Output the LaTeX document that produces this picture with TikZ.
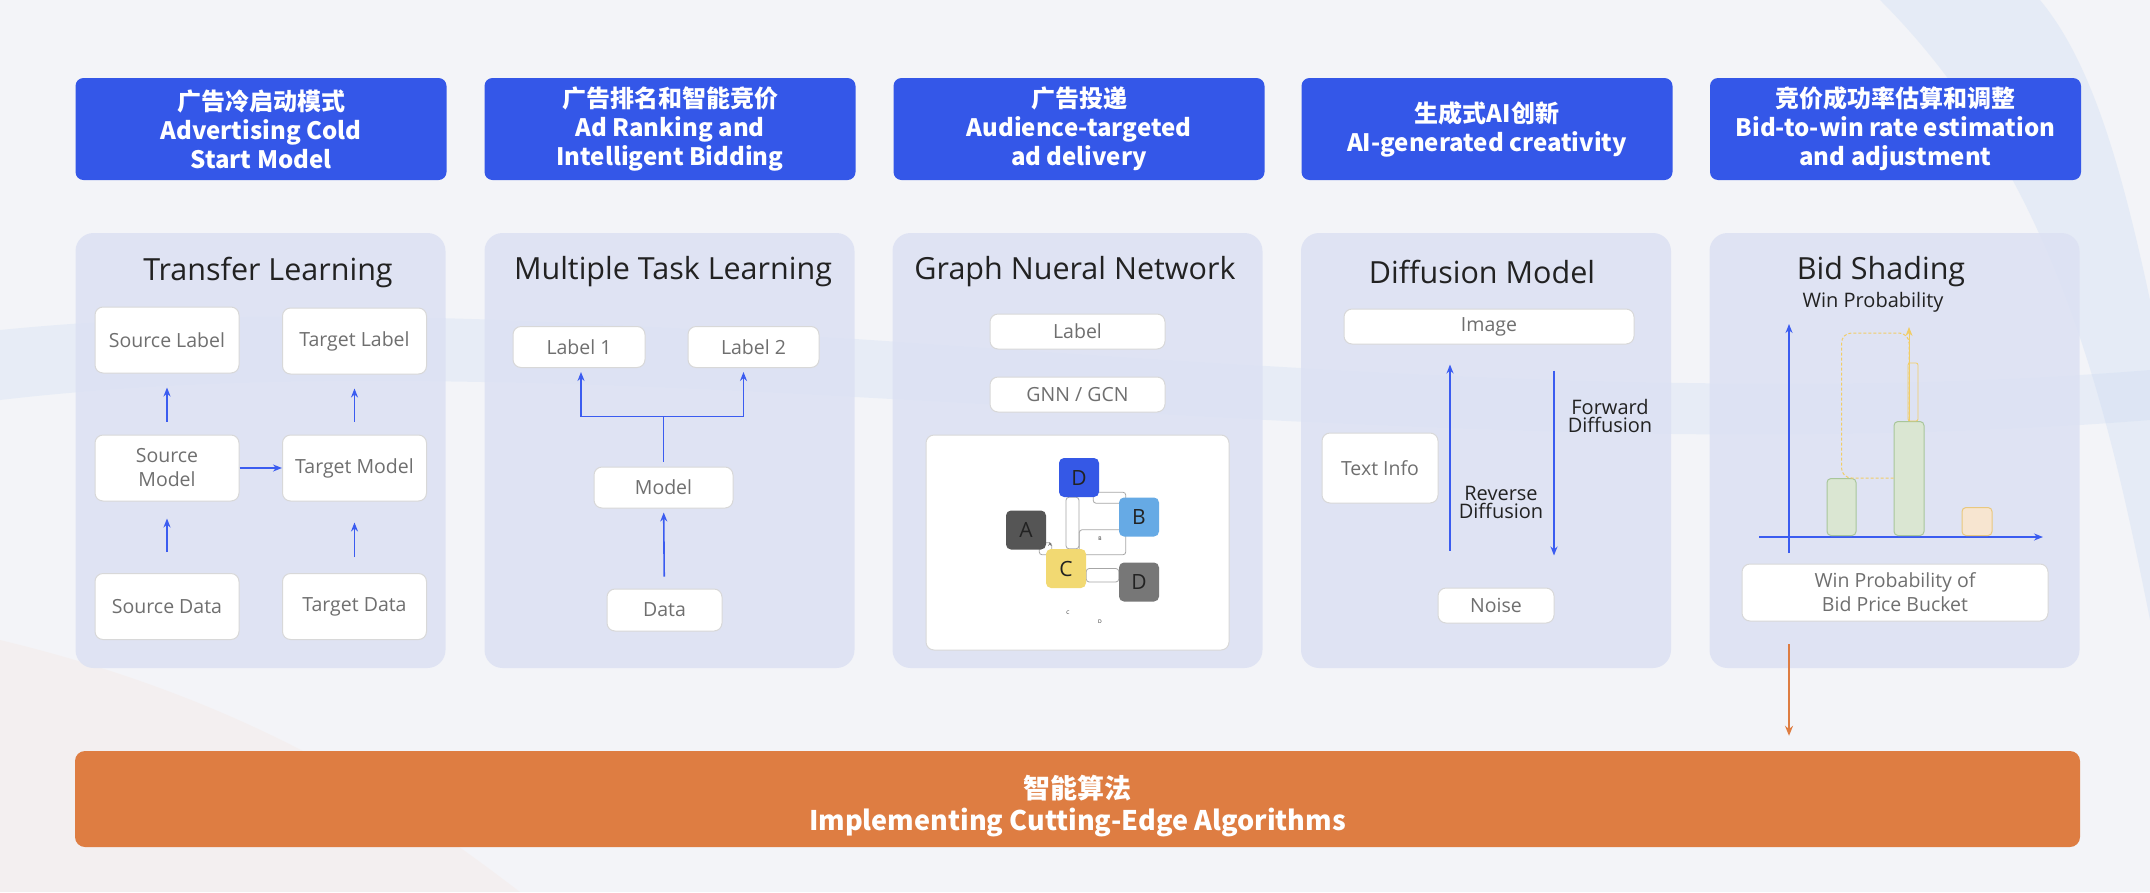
\documentclass[tikz,border=0pt]{standalone}
\usepackage{fontspec}
\setmainfont{Open Sans}
\newfontfamily\cjk{Noto Sans CJK SC}
\usepackage{tikz}
\usetikzlibrary{calc, arrows.meta, positioning, backgrounds}
\pgfdeclarelayer{links}
\pgfsetlayers{background,links,main}
\definecolor{headblue}{HTML}{3457E8}
\definecolor{arrowblue}{HTML}{3B5CF0}
\definecolor{algoorange}{HTML}{DE7D42}
\definecolor{panelfill}{HTML}{DCE1F3}
\definecolor{boxline}{HTML}{D8D8D8}
\definecolor{boxtext}{HTML}{6F6F6F}
\definecolor{titletext}{HTML}{222222}
\definecolor{pagebg}{HTML}{F3F4F8}
\definecolor{swoosh}{HTML}{C6D8F2}
\definecolor{tileblue}{HTML}{3558E6}
\definecolor{tilesky}{HTML}{66AAE5}
\definecolor{tiledark}{HTML}{555555}
\definecolor{tileyellow}{HTML}{F2D972}
\definecolor{tilegrey}{HTML}{777777}
\definecolor{bargreen}{HTML}{DAE6D2}
\definecolor{bargreenline}{HTML}{A8C69A}
\definecolor{barpeach}{HTML}{F7E5D0}
\definecolor{barpeachline}{HTML}{E9C87E}
\definecolor{shadeyellow}{HTML}{F1CD66}

\begin{document}
\begin{tikzpicture}[
        x=1pt, y=-1pt,
        head/.style = {fill=headblue, rounded corners=8pt, minimum width=371pt, minimum height=102pt, inner sep=0pt, align=center, text=white, font=\cjk\bfseries\fontsize{24}{29}\selectfont},
        panel/.style = {fill=panelfill, fill opacity=0.85, rounded corners=18pt, minimum width=370pt, minimum height=435pt, inner sep=0pt},
        ptitle/.style = {text=titletext, font=\fontsize{30.5}{36}\selectfont},
        box/.style = {draw=boxline, fill=white, rounded corners=8pt, line width=1pt, inner sep=0pt, align=center, text=boxtext, font=\fontsize{19.5}{24}\selectfont},
        tlbox/.style = {box, minimum width=144pt, minimum height=66pt},
        note/.style = {text=titletext, align=center, font=\fontsize{20}{18}\selectfont},
        arrow/.style = {draw=arrowblue, line width=1.6pt, -{Stealth[length=9pt, width=7pt]}},
        blueline/.style = {draw=arrowblue, line width=1.6pt},
        tile/.style = {rounded corners=5pt, minimum width=40pt, minimum height=39pt, inner sep=0pt, text=titletext, font=\fontsize{21}{21}\selectfont},
        gnnLink/.style = {draw=black!35, line width=0.8pt, rounded corners=3pt},
        tiny/.style = {text=titletext, inner sep=0pt, font=\fontsize{5}{5}\selectfont},
        bar/.style = {anchor=south, rounded corners=4pt, line width=1pt, inner sep=0pt},
        shadeLine/.style = {draw=shadeyellow, line width=1pt},
        orangeArrow/.style = {draw=algoorange, line width=2pt, -{Stealth[length=10pt, width=8pt]}}
    ]
        \useasboundingbox (0,0) rectangle (2150,892);

        \begin{scope}[on background layer]
            % Page background
            \fill[pagebg] (0,0) rectangle (2150,892);
            \fill[swoosh, opacity=0.25] (0,330) .. controls (600,270) and (1400,430) .. (2150,370) -- (2150,420) .. controls (1400,480) and (600,330) .. (0,400) -- cycle;
            \fill[swoosh, opacity=0.3] (1880,0) .. controls (2060,180) and (2110,420) .. (2150,620) -- (2150,300) .. controls (2120,160) and (2090,60) .. (2040,0) -- cycle;
            \fill[algoorange!25, opacity=0.2] (0,640) .. controls (250,700) and (400,800) .. (520,892) -- (0,892) -- cycle;

            % Panels
            \node (panelTransfer) [panel] at (260.5,450.5) {};
            \node (panelMulti) [panel] at (669.5,450.5) {};
            \node (panelGnn) [panel] at (1077.5,450.5) {};
            \node (panelDiffusion) [panel] at (1486,450.5) {};
            \node (panelShading) [panel] at (1894.5,450.5) {};

            \node (graphBox) [box, minimum width=303pt, minimum height=215pt] at (1077.5,542.5) {};
        \end{scope}

        % Top headers
        \node (headCold) [head] at (261,129) {广告冷启动模式\\Advertising Cold\\Start Model};
        \node (headRank) [head] at (670,129) {广告排名和智能竞价\\Ad Ranking and\\Intelligent Bidding};
        \node (headDelivery) [head] at (1079,129) {广告投递\\Audience-targeted\\ad delivery};
        \node (headCreative) [head] at (1487,129) {生成式AI创新\\AI-generated creativity};
        \node (headBid) [head] at (1895.5,129) {竞价成功率估算和调整\\Bid-to-win rate estimation\\and adjustment};

        % Panel titles
        \node (titleTransfer) [ptitle] at (268,272) {Transfer Learning};
        \node (titleMulti) [ptitle] at (673,272) {Multiple Task Learning};
        \node (titleGnn) [ptitle] at (1075,272) {Graph Nueral Network};
        \node (titleDiffusion) [ptitle] at (1482,272) {Diffusion Model};
        \node (titleShading) [ptitle] at (1881,272) {Bid Shading};

        % Transfer learning
        \node (srcLabel) [tlbox] at (167,340) {Source Label};
        \node (tgtLabel) [tlbox] at (354.5,341) {Target Label};
        \node (srcModel) [tlbox] at (167,468) {Source\\Model};
        \node (tgtModel) [tlbox] at (354.5,468) {Target Model};
        \node (srcData) [tlbox] at (167,606.5) {Source Data};
        \node (tgtData) [tlbox] at (354.5,606.5) {Target Data};

        \draw [arrow, shorten <=13pt, shorten >=14pt] (srcModel) -- (srcLabel);
        \draw [arrow, shorten <=13pt, shorten >=14pt] (tgtModel) -- (tgtLabel);
        \draw [arrow, shorten <=21pt, shorten >=17pt] (srcData) -- (srcModel);
        \draw [arrow, shorten <=16pt, shorten >=21pt] (tgtData) -- (tgtModel);
        \draw [arrow] (srcModel) -- (tgtModel);

        % Multiple task learning
        \node (label1) [box, minimum width=132pt, minimum height=41pt] at (579,347) {Label 1};
        \node (label2) [box, minimum width=131pt, minimum height=41pt] at (753.5,347) {Label 2};
        \node (mtlModel) [box, minimum width=139pt, minimum height=41pt] at (663.5,487.5) {Model};
        \node (mtlData) [box, minimum width=115pt, minimum height=42pt] at (664.5,610) {Data};

        \draw [arrow, shorten <=12pt, shorten >=4pt] (mtlData) -- (mtlModel);
        \coordinate (splitMtl) at ($(mtlModel.north)+(0,-50)$);
        \draw [blueline, shorten <=5pt] (mtlModel.north) -- (splitMtl);
        \draw [arrow, shorten >=4pt] (splitMtl) -| ([xshift=2pt]label1.south);
        \draw [arrow, shorten >=4pt] (splitMtl) -| ([xshift=-10pt]label2.south);

        % Graph neural network
        \node (gnnLabel) [box, minimum width=175pt, minimum height=35pt] at (1077.5,331.5) {Label};
        \node (gnnConv) [box, minimum width=175pt, minimum height=35pt] at (1077.5,394.5) {GNN / GCN};

        \node (nodeD) [tile, fill=tileblue] at (1079,477.5) {D};
        \node (nodeB) [tile, fill=tilesky] at (1139,517) {B};
        \node (nodeA) [tile, fill=tiledark] at (1026,530) {A};
        \node (nodeC) [tile, fill=tileyellow] at (1066,568.5) {C};
        \node (nodeDd) [tile, fill=tilegrey] at (1139,582) {D};

        \begin{pgfonlayer}{links}
            \draw [gnnLink] ($(nodeD.south east)+(-6,-5)$) rectangle ($(nodeB.north west)+(7,6)$);
            \draw [gnnLink] (nodeC.north) rectangle (nodeD.south);
            \draw [gnnLink] ($(nodeC.north east)+(-7,6)$) rectangle ($(nodeB.south west)+(7,-7)$);
            \draw [gnnLink] ($(nodeA.south east)+(-7,-7)$) rectangle ($(nodeC.north west)+(6,6)$);
            \draw [gnnLink] (nodeC.east) rectangle (nodeDd.west);
        \end{pgfonlayer}

        \node (tinyB) [tiny] at (1100,539) {B};
        \node (tinyA) [tiny] at (1050,545) {A};
        \node (tinyC) [tiny] at (1068,613) {C};
        \node (tinyD) [tiny] at (1100,622) {D};

        % Diffusion model
        \node (image) [box, minimum width=290pt, minimum height=35pt] at (1489,326.5) {Image};
        \node (textInfo) [box, minimum width=116pt, minimum height=70pt] at (1380,468) {Text Info};
        \node (noise) [box, minimum width=116pt, minimum height=35pt] at (1496,605.5) {Noise};

        \coordinate (revX) at (1450,0);
        \coordinate (fwdX) at (1554,0);
        \draw [arrow, shorten <=37pt, shorten >=20pt] (noise.north -| revX) -- (image.south -| revX);
        \draw [arrow, shorten <=26pt, shorten >=32pt] (image.south -| fwdX) -- (noise.north -| fwdX);

        \node (fwdLabel) [note] at (1610,416) {Forward\\Diffusion};
        \node (revLabel) [note] at (1501,502) {Reverse\\Diffusion};

        % Bid shading
        \node (winLabel) [note] at (1873,302) {Win Probability};

        \coordinate (yTop) at (1789,324);
        \coordinate (yBot) at (1789,553);
        \coordinate (xLeft) at (1759,537);
        \coordinate (xRight) at (2043,537);
        \draw [arrow, line width=1.5pt] (yBot) -- (yTop);
        \draw [arrow, line width=1.5pt] (xLeft) -- (xRight);

        \node (bar1) [bar, fill=bargreen, draw=bargreenline, minimum width=29pt, minimum height=57pt] at (1841.5,536) {};
        \node (bar2) [bar, fill=bargreen, draw=bargreenline, minimum width=30pt, minimum height=114pt] at (1909,536) {};
        \node (bar3) [bar, fill=barpeach, draw=barpeachline, minimum width=30pt, minimum height=28pt] at (1977,536) {};

        \draw [shadeLine, dash pattern=on 3pt off 2pt, rounded corners=10pt] (bar2.west |- bar1.north) -- (bar1.north) -- ($(bar1.north)+(0,-145)$) -| (bar2.north);
        \draw [shadeLine, rounded corners=2pt, line width=0.8pt] ($(bar2.north)+(-1,0)$) rectangle ($(bar2.north)+(9,-58)$);
        \draw [shadeLine, -{Stealth[length=9pt, width=7pt]}] (bar2.north) -- ($(bar2.north)+(0,-94)$);

        \node (bucketBox) [box, minimum width=306pt, minimum height=57pt] at (1895,592.5) {Win Probability of\\Bid Price Bucket};

        % Bottom algorithms bar
        \node (algoBar) [fill=algoorange, rounded corners=10pt, minimum width=2005pt, minimum height=96pt, inner sep=0pt] at (1077.5,799) {};
        \node (algoText) [align=center, text=white, font=\cjk\bfseries\fontsize{27}{32}\selectfont] at ($(algoBar.center)+(0,7)$) {智能算法\\Implementing Cutting-Edge Algorithms};

        \coordinate (bidOut) at (1789,644);
        \draw [orangeArrow, shorten >=15pt] (bidOut) -- (bidOut |- algoBar.north);

    \end{tikzpicture}
\end{document}
